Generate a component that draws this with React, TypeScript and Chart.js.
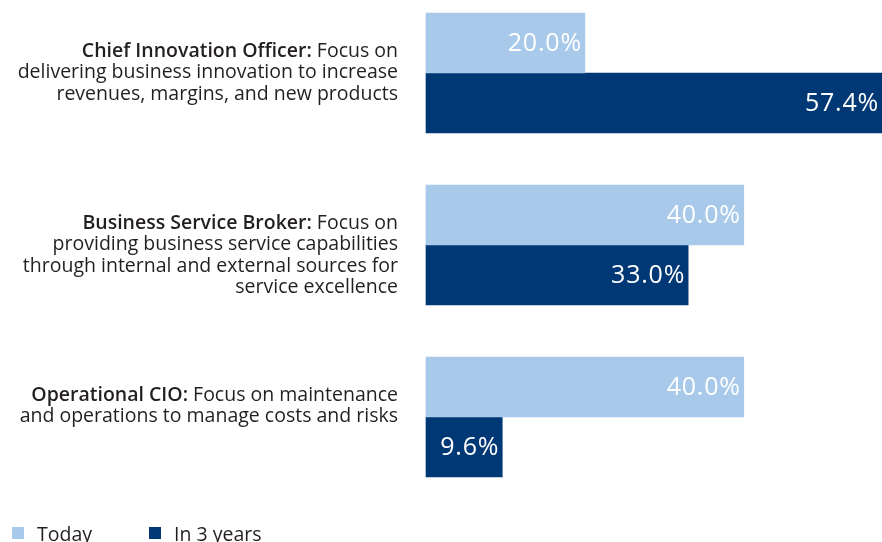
import React, { useEffect, useRef } from 'react';
import { Chart, registerables } from 'chart.js';

Chart.register(...registerables);

const categories = ['Chief Innovation Officer', 'Business Service Broker', 'Operational CIO'];
const roleTitles = ['Chief Innovation Officer:', 'Business Service Broker:', 'Operational CIO:'];
const roleDescriptions = [
  ['Focus on', 'delivering business innovation to increase', 'revenues, margins, and new products'],
  ['Focus on', 'providing business service capabilities', 'through internal and external sources for', 'service excellence'],
  ['Focus on maintenance', 'and operations to manage costs and risks'],
];
const seriesNames = ['Today', 'In 3 years'];
const todayValues = [20.0, 40.0, 40.0];
const in3YearsValues = [57.4, 33.0, 9.6];

const LIGHT = '#A9C9EB';
const DARK = '#003876';
const TEXT = '#231F20';
const FONT = '"Open Sans", sans-serif';

const labelPlugin = {
  id: 'customLabels',
  afterDatasetsDraw(chart: any) {
    const ctx = chart.ctx as CanvasRenderingContext2D;
    const yScale = chart.scales.y;
    ctx.save();
    // value labels
    chart.data.datasets.forEach((ds: any, di: number) => {
      const meta = chart.getDatasetMeta(di);
      meta.data.forEach((bar: any, i: number) => {
        const v = ds.data[i] as number;
        ctx.font = `25px ${FONT}`;
        (ctx as any).letterSpacing = '0.8px';
        ctx.fillStyle = '#FFFFFF';
        ctx.textAlign = 'right';
        ctx.textBaseline = 'middle';
        ctx.fillText(`${v.toFixed(1)}%`, bar.x - 3, bar.y + 1);
      });
    });
    (ctx as any).letterSpacing = '0px';
    // category labels
    const rightX = 398;
    const lineH = 21.5;
    const size = 19.5;
    categories.forEach((_c, i) => {
      const cy = yScale.getPixelForValue(i);
      const lines = roleDescriptions[i];
      ctx.fillStyle = TEXT;
      ctx.textBaseline = 'middle';
      ctx.textAlign = 'left';
      lines.forEach((line, li) => {
        const y = cy - 22 + li * lineH;
        if (li === 0) {
          ctx.font = `${size}px ${FONT}`;
          const normal = ' ' + line;
          const wn = ctx.measureText(normal).width;
          ctx.font = `600 ${size}px ${FONT}`;
          const wb = ctx.measureText(roleTitles[i]).width;
          ctx.fillText(roleTitles[i], rightX - wn - wb, y);
          ctx.font = `${size}px ${FONT}`;
          ctx.fillText(normal, rightX - wn, y);
        } else {
          ctx.font = `${size}px ${FONT}`;
          const w = ctx.measureText(line).width;
          ctx.fillText(line, rightX - w, y);
        }
      });
    });
    // legend
    const legendX = [12, 149];
    const colors = [LIGHT, DARK];
    seriesNames.forEach((name, i) => {
      ctx.fillStyle = colors[i];
      ctx.fillRect(legendX[i], 527, 12, 12);
      ctx.fillStyle = TEXT;
      ctx.font = `19.5px ${FONT}`;
      ctx.textAlign = 'left';
      ctx.textBaseline = 'middle';
      ctx.fillText(name, legendX[i] + 25, 535);
    });
    ctx.restore();
  },
};

export default function App() {
  const canvasRef = useRef<HTMLCanvasElement | null>(null);
  useEffect(() => {
    if (!canvasRef.current) return;
    const chart = new Chart(canvasRef.current, {
      type: 'bar',
      data: {
        labels: categories,
        datasets: [
          { label: seriesNames[0], data: todayValues, backgroundColor: LIGHT, barThickness: 60, clip: false as any },
          { label: seriesNames[1], data: in3YearsValues, backgroundColor: DARK, barThickness: 60, clip: false as any },
        ],
      },
      options: {
        indexAxis: 'y',
        animation: false,
        responsive: false,
        maintainAspectRatio: false,
        layout: { padding: { top: 73, bottom: 125, left: 426, right: 0 } },
        scales: {
          x: { display: false, min: 0, max: 57.4 },
          y: { display: false, offset: false },
        },
        plugins: {
          legend: { display: false },
          tooltip: { enabled: false },
        },
      },
      plugins: [labelPlugin],
    });
    return () => chart.destroy();
  }, []);
  return (
    <div style={{ position: 'absolute', left: 0, top: 0, width: 882, height: 542 }}>
      <canvas ref={canvasRef} width={882} height={542} style={{ width: 882, height: 542 }} />
    </div>
  );
}
